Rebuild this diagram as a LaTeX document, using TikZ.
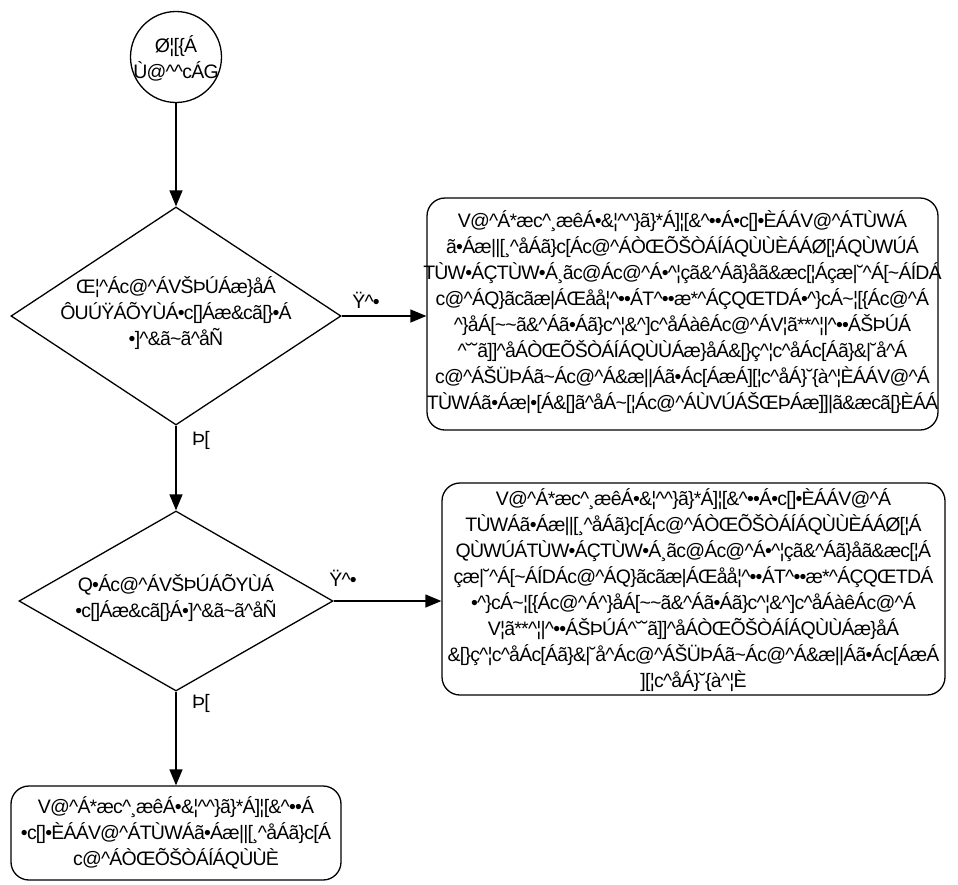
\documentclass[tikz,border=0pt]{standalone}
\usepackage{fontspec}
\setmainfont{Liberation Sans}
\newfontfamily\dfont{Liberation Sans}[LetterSpace=-4]
\usetikzlibrary{shapes.geometric,arrows.meta}
\newcommand\dtext{\dfont\fontsize{19.5}{26}\selectfont}
\begin{document}
\catcode`\^=12 \catcode`\&=12 \catcode`\~=12
\begin{tikzpicture}[x=1pt,y=-1pt,line width=1.3pt,
  arr/.style={-{Triangle[length=16pt,width=13pt]}},
  txt/.style={align=center,font=\dtext,inner sep=0pt},
  rbox/.style={draw,rounded corners=18pt,inner sep=0pt},
  dia/.style={draw,diamond,inner sep=0pt},
  lbl/.style={font=\dtext,inner sep=0pt}]
\fill[white,use as bounding box] (0,0) rectangle (958,884);
% start
\node[draw,circle,minimum size=91pt,inner sep=0pt] (start) at (176,57) {};
\node[txt] (startt) at (176,58) {Ø¦[\{Á\\Ù@^^cÁG};
% decisions
\node[dia,minimum width=330pt,minimum height=218pt] (d1) at (176,316) {};
\node[txt] (d1t) at (176,313) {Œ¦^Ác@^ÁVŠÞÚÁæ\}åÁ\\
ÔUÚŸÁÕYÙÁ•c[]Áæ&cã[\}•Á\\
•]^&ã~ã^åÑ};
\node[dia,minimum width=314pt,minimum height=180pt] (d2) at (176,601) {};
\node[txt] (d2t) at (176,598) {Q•Ác@^ÁVŠÞÚÁÕYÙÁ\\
•c[]Áæ&cã[\}Á•]^&ã~ã^åÑ};
% boxes
\node[rbox,minimum width=511pt,minimum height=232pt] (b1) at (682.5,314) {};
\node[txt] (b1t) at (682.5,312) {V@^Á*æc^¸æêÁ•&¦^^\}ã\}*Á]¦[&^••Á•c[]•ÈÁÁV@^ÁTÙWÁ\\
ã•Áæ||[¸^åÁã\}c[Ác@^ÁÒŒÕŠÒÁÍÁQÙÙÈÁÁØ[¦ÁQÙWÚÁ\\
TÙW•ÁÇTÙW•Á¸ãc@Ác@^Á•^¦çã&^Áã\}åã&æc[¦Áçæ|˘^Á[~ÁÍDÁ\\
c@^ÁQ\}ãcãæ|ÁŒåå¦^••ÁT^••æ*^ÁÇQŒTDÁ•^\}cÁ~¦[\{Ác@^Á\\
^\}åÁ[~~ã&^Áã•Áã\}c^¦&^]c^åÁàêÁc@^ÁV¦ã**^¦|^••ÁŠÞÚÁ\\
^˘˘ã]]^åÁÒŒÕŠÒÁÍÁQÙÙÁæ\}åÁ&[\}ç^¦c^åÁc[Áã\}&|˘å^Á\\
c@^ÁŠÜÞÁã~Ác@^Á&æ||Áã•Ác[ÁæÁ][¦c^åÁ\}˘\{à^¦ÈÁÁV@^Á\\
TÙWÁã•Áæ|•[Á&[]ã^åÁ~[¦Ác@^ÁÙVÚÁŠŒÞÁæ]]|ã&æcã[\}ÈÁÁ};
\node[rbox,minimum width=503pt,minimum height=212pt] (b2) at (693.5,589) {};
\node[txt] (b2t) at (693.5,590) {V@^Á*æc^¸æêÁ•&¦^^\}ã\}*Á]¦[&^••Á•c[]•ÈÁÁV@^Á\\
TÙWÁã•Áæ||[¸^åÁã\}c[Ác@^ÁÒŒÕŠÒÁÍÁQÙÙÈÁÁØ[¦Á\\
QÙWÚÁTÙW•ÁÇTÙW•Á¸ãc@Ác@^Á•^¦çã&^Áã\}åã&æc[¦Á\\
çæ|˘^Á[~ÁÍDÁc@^ÁQ\}ãcãæ|ÁŒåå¦^••ÁT^••æ*^ÁÇQŒTDÁ\\
•^\}cÁ~¦[\{Ác@^Á^\}åÁ[~~ã&^Áã•Áã\}c^¦&^]c^åÁàêÁc@^Á\\
V¦ã**^¦|^••ÁŠÞÚÁ^˘˘ã]]^åÁÒŒÕŠÒÁÍÁQÙÙÁæ\}åÁ\\
&[\}ç^¦c^åÁc[Áã\}&|˘å^Ác@^ÁŠÜÞÁã~Ác@^Á&æ||Áã•Ác[ÁæÁ\\
][¦c^åÁ\}˘\{à^¦È};
\node[rbox,minimum width=330pt,minimum height=94pt] (b3) at (176,833) {};
\node[txt] (b3t) at (176,833) {V@^Á*æc^¸æêÁ•&¦^^\}ã\}*Á]¦[&^••Á\\
•c[]•ÈÁÁV@^ÁTÙWÁã•Áæ||[¸^åÁã\}c[Á\\
c@^ÁÒŒÕŠÒÁÍÁQÙÙÈ};
% labels
\node[lbl] (y1) at (366,300) {Ÿ^•};
\node[lbl] (y2) at (343,578) {Ÿ^•};
\node[lbl] (n1) at (201,440) {Þ[};
\node[lbl] (n2) at (201,703) {Þ[};
% connectors
\draw[arr] (start.south) -- (d1.north);
\draw[arr] (d1.east) -- (d1.east -| b1.west);
\draw[arr] (d1.south) -- (d2.north);
\draw[arr] (d2.east) -- (d2.east -| b2.west);
\draw[arr] (d2.south) -- (b3.north);
\end{tikzpicture}
\catcode`\^=7 \catcode`\&=4 \catcode`\~=13
\end{document}
